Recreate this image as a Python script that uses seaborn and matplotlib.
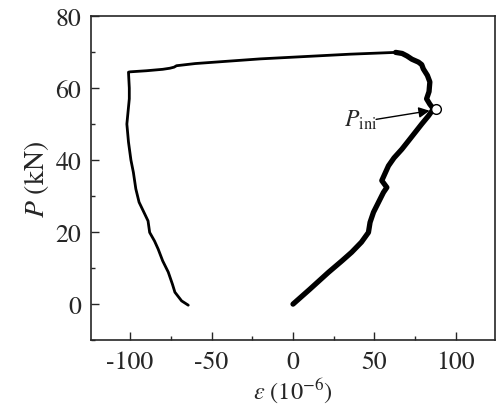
import pandas as pd
import matplotlib.pyplot as plt
import seaborn as sns
from matplotlib.ticker import MultipleLocator

# loading branch (strain in 1e-6, load in kN)
strain_load = [0, 10, 21.7, 30, 36, 42, 46.3, 47.3, 49.4, 52.4, 55.5, 57.6,
               54.5, 58.6, 62, 66.8, 71, 75, 79, 83.2, 86.2, 84, 82, 83.5,
               84, 82.5, 80, 79, 77, 73, 70, 67, 63]
p_load = [0, 4, 8.8, 12, 14.4, 17.2, 19.9, 22.7, 25.5, 28.2, 31, 32.4,
          34.3, 38.4, 40.6, 43, 45.4, 47.7, 50, 52.3, 54.2, 55.5, 57, 59,
          61.7, 63.5, 65.3, 66.5, 67.2, 68, 68.9, 69.6, 69.9]

# post-peak branch
strain_post = [63, 35, -20, -60, -71.5, -73, -75.6, -80, -90, -100, -101,
               -100.5, -100.5, -102, -101, -99.5, -98, -96.5, -94.5, -91,
               -89, -88, -85, -82.8, -80, -76.6, -74, -72.5, -68.4, -64.3]
p_post = [69.9, 69.4, 68.1, 66.8, 66.2, 65.8, 65.5, 65.2, 64.8, 64.5, 64.4,
          60, 57, 50, 45, 40, 36.6, 32, 28.3, 25, 23.1, 19.9, 17.5, 15.3,
          12, 8.9, 5.5, 3.3, 0.9, -0.3]

p_ini = (87.5, 54.3)

sns.set_style("ticks")
plt.rcParams["font.family"] = ["STIXGeneral", "DejaVu Serif"]
plt.rcParams["mathtext.fontset"] = "stix"
plt.rcParams["axes.unicode_minus"] = False

df1 = pd.DataFrame({"strain": strain_load, "P": p_load})
df2 = pd.DataFrame({"strain": strain_post, "P": p_post})

fig = plt.figure(figsize=(4.96, 4.10), dpi=100)
ax = fig.add_axes([0.1835, 0.168, 0.8145, 0.7905])

sns.lineplot(data=df1, x="strain", y="P", sort=False, estimator=None,
             color="black", linewidth=3.8, ax=ax, solid_joinstyle="round")
sns.lineplot(data=df2, x="strain", y="P", sort=False, estimator=None,
             color="black", linewidth=2.0, ax=ax, solid_joinstyle="round")
ax.plot(*p_ini, "o", ms=7, mfc="white", mec="black", mew=1.0, zorder=5)

ax.annotate("", xy=(83.8, 53.7), xytext=(51, 51.3), zorder=6,
            arrowprops=dict(arrowstyle="-|>", color="black", lw=1.0,
                            mutation_scale=16, shrinkA=0, shrinkB=0))
ax.text(31, 51.3, r"$P_{\rm ini}$", fontsize=17, va="center", ha="left")

ax.set_xlim(-124, 124)
ax.set_ylim(-10, 80)
ax.xaxis.set_major_locator(MultipleLocator(50))
ax.xaxis.set_minor_locator(MultipleLocator(25))
ax.yaxis.set_major_locator(MultipleLocator(20))
ax.yaxis.set_minor_locator(MultipleLocator(10))
ax.tick_params(which="major", direction="in", length=6, width=1,
               labelsize=18.5, pad=7)
ax.tick_params(which="minor", direction="in", length=3, width=1)
ax.tick_params(top=False, right=False, which="both")
for s in ax.spines.values():
    s.set_linewidth(1.2)
    s.set_visible(True)

ax.set_xlabel(r"$\varepsilon$ (10$^{-6}$)", fontsize=17.5, labelpad=1)
ax.set_ylabel(r"$P$ (kN)", fontsize=20, labelpad=3)

fig.savefig("out.png", dpi=100)
